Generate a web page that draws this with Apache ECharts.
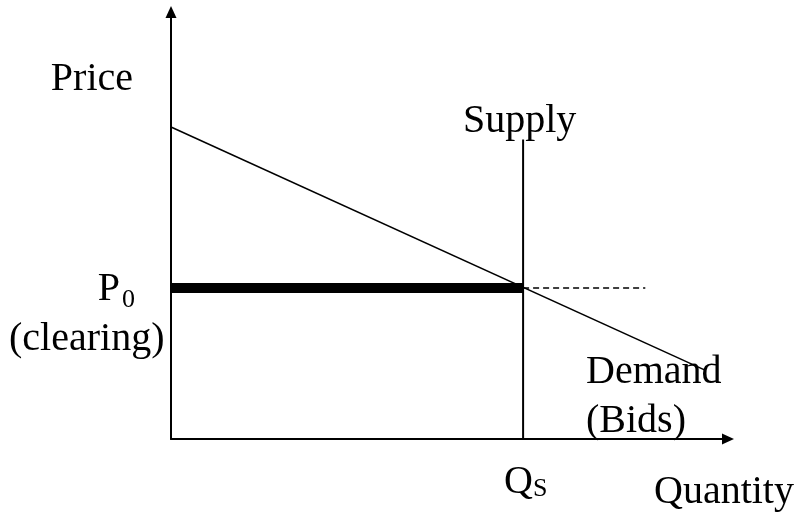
<!DOCTYPE html>
<html>
<head>
<meta charset="utf-8">
<script src="https://cdn.jsdelivr.net/npm/echarts@6/dist/echarts.min.js"></script>
<style>
  html, body { margin: 0; padding: 0; background: #fff; }
  #chart { width: 796px; height: 523px; }
</style>
</head>
<body>
<div id="chart"></div>
<script>
// data (arbitrary price / quantity units, 0..10 on both axes)
var demandPts = [[0, 7.29], [9.57, 1.61]];
var supplyPts = [[6.31, 0], [6.31, 7.0]];
var clearingPts = [[0, 3.53], [6.31, 3.53]];
var dashPts = [[6.31, 3.53], [8.5, 3.53]];

var FONT = '40px "Liberation Serif", "Times New Roman", serif';
var SUB = '26px "Liberation Serif", "Times New Roman", serif';

function label(text, x, baseline, align, font) {
  return {
    type: "text",
    silent: true,
    style: {
      text: text,
      x: x,
      y: baseline - 11,
      font: font || FONT,
      fill: "#000",
      align: align || "left",
      verticalAlign: "middle"
    }
  };
}

var chart = echarts.init(document.getElementById("chart"));

var axisCommon = {
  type: "value",
  min: 0,
  max: 10,
  axisTick: { show: false },
  axisLabel: { show: false },
  splitLine: { show: false },
  axisLine: {
    show: true,
    symbol: ["none", "triangle"],
    symbolSize: [11, 12],
    symbolOffset: [0, -1],
    lineStyle: { color: "#000", width: 2 }
  }
};

var lineCommon = {
  type: "line",
  symbol: "none",
  silent: true,
  animation: false
};

chart.setOption({
  animation: false,
  grid: { left: 171, right: 67, top: 11, bottom: 84 },
  xAxis: axisCommon,
  yAxis: axisCommon,
  series: [
    Object.assign({}, lineCommon, {
      data: clearingPts,
      lineStyle: { color: "#000", width: 10 }
    }),
    Object.assign({}, lineCommon, {
      data: dashPts,
      lineStyle: { color: "#000", width: 1.5, type: [6, 4] }
    }),
    Object.assign({}, lineCommon, {
      data: supplyPts,
      lineStyle: { color: "#000", width: 2 }
    }),
    Object.assign({}, lineCommon, {
      data: demandPts,
      lineStyle: { color: "#000", width: 1.5 }
    })
  ],
  graphic: [
    label("Price", 133, 90, "right"),
    label("Supply", 463, 132),
    label("P", 120, 300, "right"),
    label("0", 122, 311, "left", SUB),
    label("(clearing)", 9, 350),
    label("Demand", 586, 383),
    label("(Bids)", 586, 432),
    label("Q", 504, 493),
    label("S", 533, 500, "left", SUB),
    label("Quantity", 654, 503)
  ]
});
</script>
</body>
</html>
